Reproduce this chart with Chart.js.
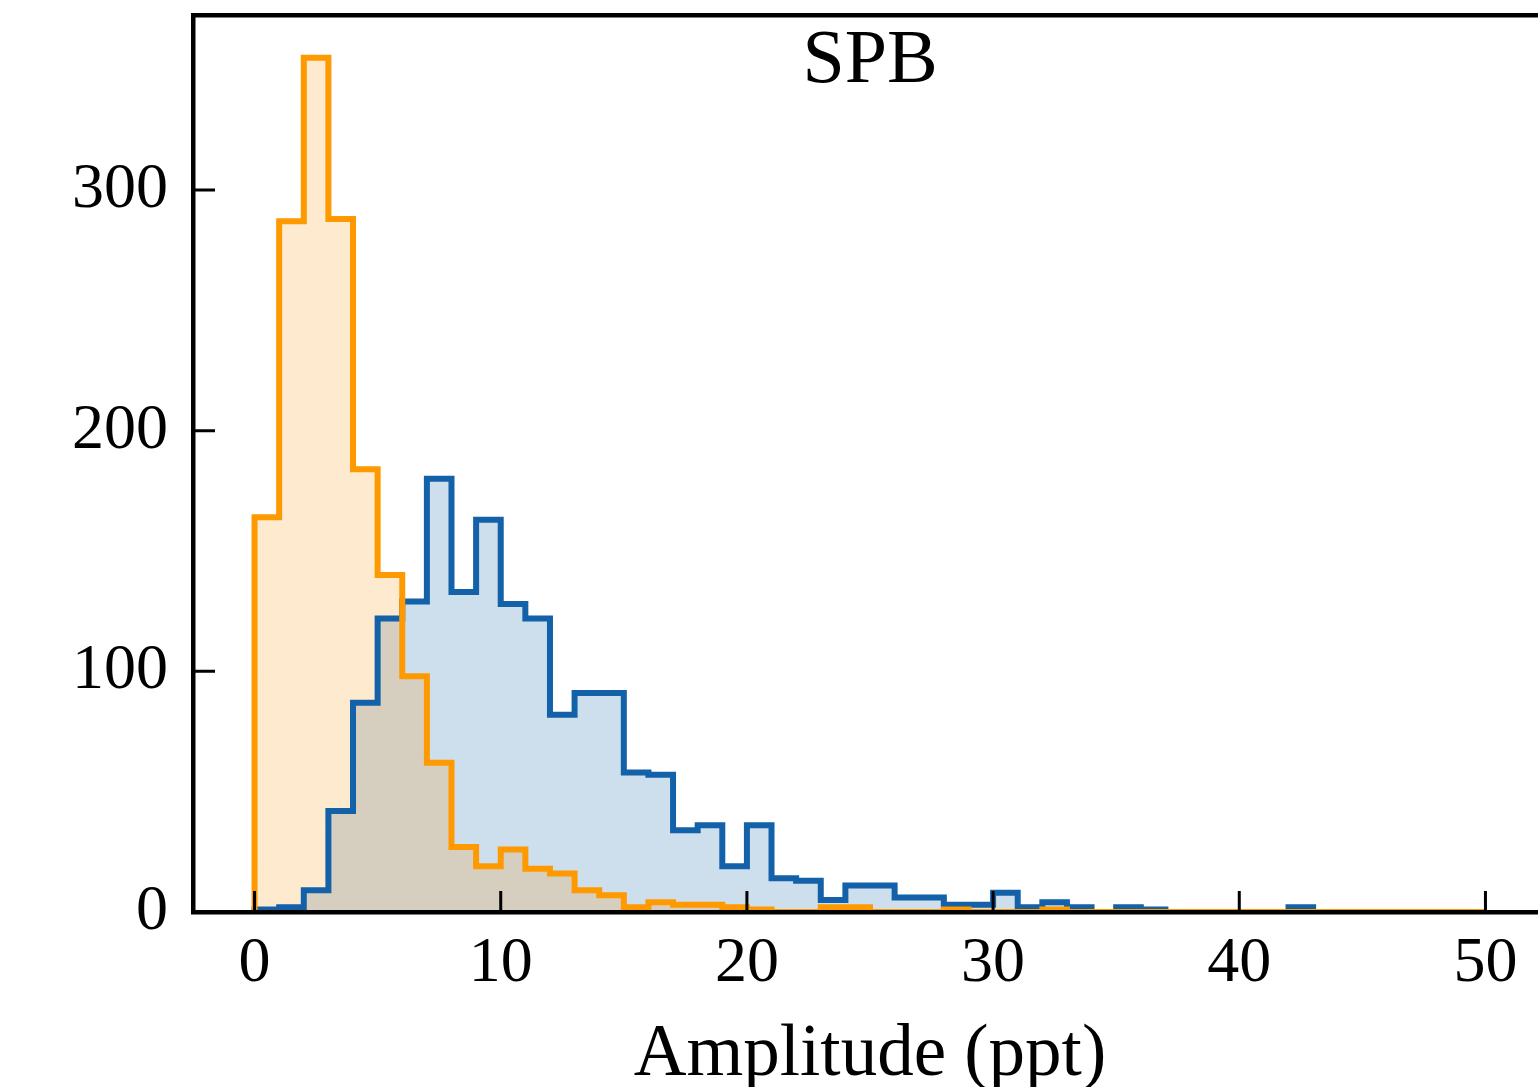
<!DOCTYPE html>
<html>
<head>
<meta charset="utf-8">
<script src="https://cdn.jsdelivr.net/npm/chart.js@4/dist/chart.umd.min.js"></script>
<style>
  html, body { margin: 0; padding: 0; background: #ffffff; overflow: hidden; }
  #wrap { width: 1560px; height: 1087px; }
</style>
</head>
<body>
<div id="wrap"><canvas id="c" width="1560" height="1087"></canvas></div>
<script>
// ---- data (counts per 1-ppt bin, starting at 0 ppt) ----
const binStart = 0;
const binWidth = 1;
const orangeCounts = [164,287,355,288,184,140,98,62,27,19,
                      26,18,16,9,7,2,4,3,3,2,
                      1,0,0,2,2,0,0,0,1,0,
                      0,0,1,0,0,0,0,0,0,0,
                      0,0,0,0,0,0,0,0,0,0];
const blueCounts = [1,2,9,42,87,122,129,180,133,163,
                    128,122,82,91,91,58,57,34,36,19,
                    36,14,13,5,11,11,6,6,3,3,
                    8,2,4,2,0,2,1,0,0,0,
                    0,0,2];
const xTickValues = [0,10,20,30,40,50];
const yTickValues = [0,100,200,300];
const titleText = 'SPB';
const xLabel = 'Amplitude (ppt)';

function stepPoints(start, w, counts) {
  const pts = [{x: start, y: 0}];
  counts.forEach((c, i) => {
    pts.push({x: start + i * w, y: c});
    pts.push({x: start + (i + 1) * w, y: c});
  });
  pts.push({x: start + counts.length * w, y: 0});
  return pts;
}

const FONT = "'Liberation Serif', 'DejaVu Serif', serif";

const innerTicks = {
  id: 'innerTicks',
  afterDraw(chart) {
    const {ctx, chartArea} = chart;
    const xs = chart.scales.x, ys = chart.scales.y;
    ctx.save();
    ctx.strokeStyle = '#000';
    ctx.lineWidth = 3;
    ctx.beginPath();
    xTickValues.forEach(v => {
      const px = xs.getPixelForValue(v);
      ctx.moveTo(px, chartArea.bottom);
      ctx.lineTo(px, chartArea.bottom - 21);
    });
    yTickValues.forEach(v => {
      const py = ys.getPixelForValue(v);
      ctx.moveTo(chartArea.left, py);
      ctx.lineTo(chartArea.left + 22, py);
    });
    ctx.stroke();
    // title inside the axes
    ctx.fillStyle = '#000';
    ctx.font = '76px ' + FONT;
    ctx.textAlign = 'center';
    ctx.textBaseline = 'alphabetic';
    ctx.fillText(titleText, (chartArea.left + chartArea.right) / 2, 82);
    ctx.restore();
  }
};

function noPad(s) { s.paddingTop = 0; s.paddingBottom = 0; s.paddingLeft = 0; s.paddingRight = 0; }

new Chart(document.getElementById('c'), {
  type: 'line',
  data: {
    datasets: [
      {
        label: 'orange',
        data: stepPoints(binStart, binWidth, orangeCounts),
        borderColor: '#FF9900',
        backgroundColor: 'rgba(250,150,10,0.2)',
        borderWidth: 6,
        fill: 'origin',
        pointRadius: 0,
        tension: 0,
        borderJoinStyle: 'miter',
        order: 0
      },
      {
        label: 'blue',
        data: stepPoints(binStart, binWidth, blueCounts),
        borderColor: '#1361A8',
        backgroundColor: 'rgba(19,97,168,0.21)',
        borderWidth: 6,
        fill: 'origin',
        pointRadius: 0,
        tension: 0,
        borderJoinStyle: 'miter',
        order: 1
      }
    ]
  },
  options: {
    responsive: false,
    animation: false,
    events: [],
    layout: { padding: { left: 0, right: 13, top: 0, bottom: 0 } },
    plugins: {
      legend: { display: false },
      tooltip: { enabled: false },
      title: { display: false },
      filler: { drawTime: 'beforeDatasetsDraw' }
    },
    scales: {
      x: {
        type: 'linear',
        position: 'bottom',
        min: -2.5,
        max: 52.5,
        afterBuildTicks: s => { s.ticks = xTickValues.map(v => ({value: v})); },
        afterFit: s => { s.height = 175; noPad(s); },
        grid: { display: false, drawTicks: false },
        border: { display: true, color: '#000', width: 4.5, z: 1 },
        ticks: { color: '#000', font: { family: FONT, size: 64 }, padding: 14, maxRotation: 0, autoSkip: false },
        title: { display: true, text: xLabel, color: '#000', font: { family: FONT, size: 73, lineHeight: 1 }, padding: { top: 0, bottom: -5 } }
      },
      xTop: {
        type: 'linear',
        position: 'top',
        min: -2.5,
        max: 52.5,
        afterFit: s => { s.height = 15; noPad(s); },
        grid: { display: false, drawTicks: false },
        border: { display: true, color: '#000', width: 4.5, z: 1 },
        ticks: { display: false }
      },
      y: {
        type: 'linear',
        position: 'left',
        min: 0,
        max: 372.75,
        afterBuildTicks: s => { s.ticks = yTickValues.map(v => ({value: v})); },
        afterFit: s => { s.width = 193; noPad(s); },
        grid: { display: false, drawTicks: false },
        border: { display: true, color: '#000', width: 4.5, z: 1 },
        ticks: { color: '#000', font: { family: FONT, size: 64 }, padding: 25, autoSkip: false }
      }
    }
  },
  plugins: [innerTicks]
});
</script>
</body>
</html>
